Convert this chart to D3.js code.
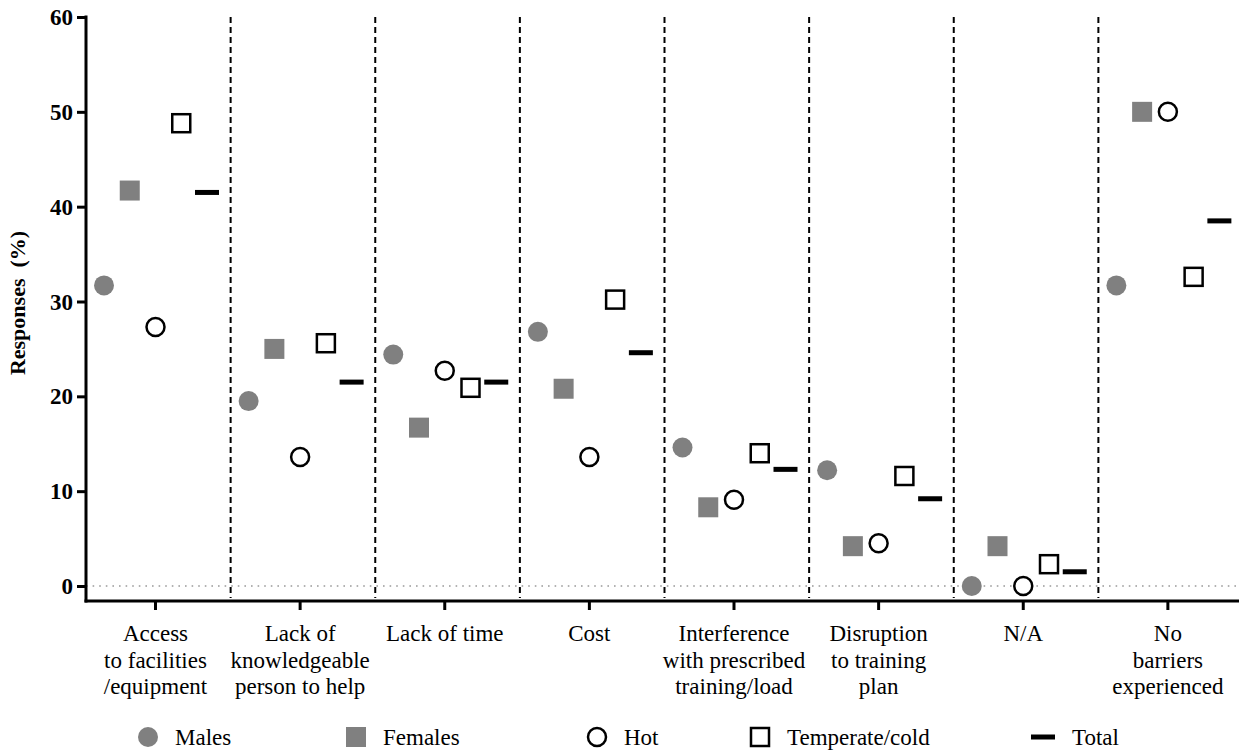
<!DOCTYPE html>
<html>
<head>
<meta charset="utf-8">
<script src="https://cdn.jsdelivr.net/npm/d3@7"></script>
<style>
  svg text, svg tspan { font-family: 'Liberation Serif', 'Times New Roman', Times, serif !important; }
</style>
</head>
<body style="margin:0;background:#fff">
<svg id="chart" width="1239" height="751"></svg>
<script>
const width = 1239;
const height = 751;
const gray = '#808080';
const fontName = 'Times New Roman';

// categories (each label split into lines)
const categories = [
  ['Access', 'to facilities', '/equipment'],
  ['Lack of', 'knowledgeable', 'person to help'],
  ['Lack of time'],
  ['Cost'],
  ['Interference', 'with prescribed', 'training/load'],
  ['Disruption', 'to training', 'plan'],
  ['N/A'],
  ['No', 'barriers', 'experienced']
];
const series = ['Males', 'Females', 'Hot', 'Temperate/cold', 'Total'];

// responses (%) per category
const males     = [31.7, 19.5, 24.4, 26.8, 14.6, 12.2, 0.0, 31.7];
const females   = [41.7, 25.0, 16.7, 20.8, 8.3, 4.2, 4.2, 50.0];
const hot       = [27.3, 13.6, 22.7, 13.6, 9.1, 4.5, 0.0, 50.0];
const temperate = [48.8, 25.6, 20.9, 30.2, 14.0, 11.6, 2.3, 32.6];
const total     = [41.5, 21.5, 21.5, 24.6, 12.3, 9.2, 1.5, 38.5];
const yTicks = [0, 10, 20, 30, 40, 50, 60];

const values = [males, females, hot, temperate, total];
const catKeys = categories.map(c => c.join(' '));

const svg = d3.select('#chart');

const plotLeft = 86, plotTop = 17, zeroY = 586, axisY = 601, plotRight = 1243;

const y = d3.scaleLinear().domain([0, 60]).range([zeroY, plotTop]);
const x0 = d3.scaleBand().domain(catKeys).range([plotLeft, plotRight]).paddingInner(0).paddingOuter(0);
const x1 = d3.scalePoint().domain(series).range([18, 121]);

// dotted zero line
svg.append('line')
  .attr('x1', plotLeft).attr('x2', width)
  .attr('y1', y(0)).attr('y2', y(0))
  .attr('stroke', '#999').attr('stroke-width', 1.6)
  .attr('stroke-dasharray', '1.6 5');

// dashed separators
svg.append('g')
  .selectAll('line')
  .data(catKeys.slice(1))
  .enter()
  .append('line')
  .attr('x1', d => x0(d)).attr('x2', d => x0(d))
  .attr('y1', plotTop).attr('y2', axisY - 3)
  .attr('stroke', '#000').attr('stroke-width', 2)
  .attr('stroke-dasharray', '6 4');

// y axis
const yAxis = svg.append('g')
  .attr('transform', `translate(${plotLeft},0)`)
  .call(d3.axisLeft(y).tickValues(yTicks).tickSize(9).tickPadding(4));
yAxis.attr('font-family', fontName).attr('font-size', 23);
yAxis.select('.domain').remove();
yAxis.selectAll('line').attr('stroke', '#000').attr('stroke-width', 3);
yAxis.selectAll('text')
  .attr('font-family', fontName)
  .attr('font-weight', 'bold')
  .attr('font-size', 23)
  .attr('fill', '#000')
  .attr('dy', '0.33em');
svg.append('line')
  .attr('x1', plotLeft).attr('x2', plotLeft)
  .attr('y1', plotTop - 1.5).attr('y2', axisY + 1.5)
  .attr('stroke', '#000').attr('stroke-width', 3);

// x axis
svg.append('line')
  .attr('x1', plotLeft - 1.5).attr('x2', width)
  .attr('y1', axisY).attr('y2', axisY)
  .attr('stroke', '#000').attr('stroke-width', 3);

const xg = svg.append('g')
  .selectAll('g')
  .data(categories)
  .enter()
  .append('g')
  .attr('transform', (d, i) => `translate(${x0(catKeys[i]) + x1('Hot')},0)`);
xg.append('line')
  .attr('y1', axisY).attr('y2', axisY + 9)
  .attr('stroke', '#000').attr('stroke-width', 3);
xg.append('text')
  .attr('text-anchor', 'middle')
  .attr('font-family', fontName)
  .attr('font-size', 23)
  .attr('fill', '#000')
  .selectAll('tspan')
  .data(d => d)
  .enter()
  .append('tspan')
  .attr('x', 0)
  .attr('y', (d, i) => 641 + i * 26.5)
  .text(d => d);

// y title
svg.append('text')
  .attr('transform', 'translate(25,303) rotate(-90)')
  .attr('text-anchor', 'middle')
  .attr('font-family', fontName)
  .attr('font-size', 22)
  .attr('font-weight', 'bold')
  .attr('fill', '#000')
  .text('Responses\u00a0\u00a0(%)');

// marker drawing
function drawMarker(g, s) {
  if (s === 'Males') {
    g.append('circle').attr('r', 10).attr('fill', gray);
  } else if (s === 'Females') {
    g.append('rect').attr('x', -10).attr('y', -10).attr('width', 20).attr('height', 20).attr('fill', gray);
  } else if (s === 'Hot') {
    g.append('circle').attr('r', 9).attr('fill', '#fff').attr('stroke', '#000').attr('stroke-width', 2.5);
  } else if (s === 'Temperate/cold') {
    g.append('rect').attr('x', -9).attr('y', -9).attr('width', 18).attr('height', 18)
      .attr('fill', '#fff').attr('stroke', '#000').attr('stroke-width', 2.5);
  } else {
    g.append('rect').attr('x', -12).attr('y', -2.5).attr('width', 24).attr('height', 5).attr('fill', '#000');
  }
}

const points = [];
series.forEach((s, si) => {
  values[si].forEach((v, ci) => points.push({ s: s, c: catKeys[ci], v: v }));
});

svg.append('g')
  .selectAll('g')
  .data(points)
  .enter()
  .append('g')
  .attr('transform', d => `translate(${x0(d.c) + x1(d.s)},${y(d.v)})`)
  .each(function (d) { drawMarker(d3.select(this), d.s); });

// legend
const legendX = [148, 356, 597, 760, 1043];
const lg = svg.append('g')
  .selectAll('g')
  .data(series)
  .enter()
  .append('g')
  .attr('transform', (d, i) => `translate(${legendX[i]},737)`);
lg.each(function (d) { drawMarker(d3.select(this), d); });
lg.append('text')
  .attr('x', (d, i) => i === 4 ? 29 : 27)
  .attr('y', 8)
  .attr('font-family', fontName)
  .attr('font-size', 23)
  .attr('fill', '#000')
  .text(d => d);
</script>
</body>
</html>
